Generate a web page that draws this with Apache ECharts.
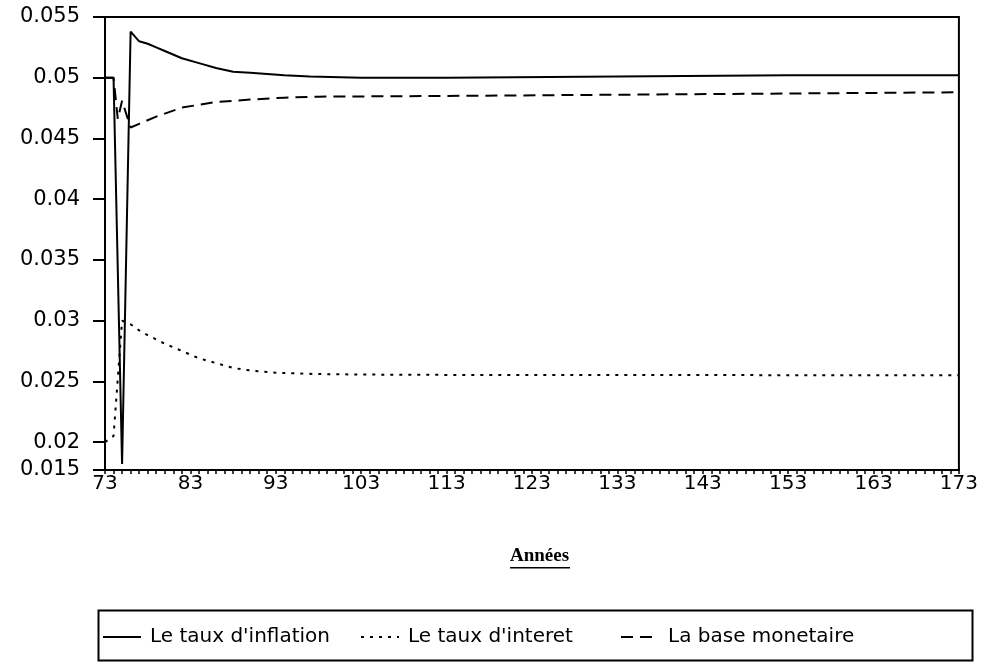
<!DOCTYPE html>
<html>
<head>
<meta charset="utf-8">
<script src="https://cdn.jsdelivr.net/npm/echarts@6/dist/echarts.min.js"></script>
<style>
  html, body { margin: 0; padding: 0; background: #fff; }
  #chart { width: 981px; height: 662px; }
</style>
</head>
<body>
<div id="chart"></div>
<script>
// Simulated paths (years 73 to 173)
const inflationYears = [73, 74, 75, 76, 77, 78, 79, 80, 82, 84, 86, 88, 90, 92, 94, 97, 103, 113, 133, 153, 173];
const inflationValues = [0.0500, 0.0500, 0.0182, 0.0538, 0.0530, 0.0528, 0.0525, 0.0522, 0.0516, 0.0512, 0.0508, 0.0505, 0.0504, 0.0503, 0.0502, 0.0501, 0.0500, 0.0500, 0.0501, 0.0502, 0.0502];

const interestYears = [73, 74, 75, 76, 77, 78, 80, 82, 84, 86, 88, 90, 93, 98, 103, 113, 173];
const interestValues = [0.0200, 0.0205, 0.0300, 0.0297, 0.0292, 0.0288, 0.0281, 0.0275, 0.0269, 0.0265, 0.0261, 0.0259, 0.0257, 0.0256, 0.02556, 0.02553, 0.0255];

const baseYears = [73, 74, 74.5, 75, 76, 77, 79, 82, 86, 90, 94, 98, 103, 113, 133, 153, 173];
const baseValues = [0.0500, 0.0500, 0.0466, 0.0481, 0.0459, 0.0462, 0.0468, 0.04754, 0.0480, 0.0482, 0.04836, 0.04844, 0.04846, 0.0485, 0.0486, 0.0487, 0.0488];

const seriesNames = ["Le taux d'inflation", "Le taux d'interet", "La base monetaire"];

// Axis ticks: years every 10 for labels, every year for small ticks
const xLabelYears = [73, 83, 93, 103, 113, 123, 133, 143, 153, 163, 173];
const xTickYears = [];
for (let y = 73; y <= 173; y++) xTickYears.push(y);

// Vertical scale: the bottom edge sits below 0.02 and carries the "0.015" caption
const yBottom = 0.0177;
const yTop = 0.055;
const yTickValues = [yBottom, 0.02, 0.025, 0.03, 0.035, 0.04, 0.045, 0.05, 0.055];
const yTickLabels = ['0.015', '0.02', '0.025', '0.03', '0.035', '0.04', '0.045', '0.05', '0.055'];

const pairs = (xs, ys) => xs.map((x, i) => [x, ys[i]]);

const FONT = 'DejaVu Sans';
const chart = echarts.init(document.getElementById('chart'), null, { renderer: 'canvas' });

const legendBase = {
  top: 627, orient: 'horizontal',
  itemWidth: 38, itemHeight: 14,
  padding: 0,
  itemStyle: { color: 'rgba(0,0,0,0)', borderWidth: 0 },
  textStyle: { color: '#000', fontFamily: FONT, fontSize: 20, padding: [0, 0, 0, 4] }
};

chart.setOption({
  animation: false,
  backgroundColor: '#ffffff',
  grid: {
    left: 105, right: 22, top: 17, bottom: 192,
    show: true, borderColor: '#000', borderWidth: 2, backgroundColor: 'transparent'
  },
  xAxis: {
    type: 'value', min: 73, max: 173,
    axisLine: { show: true, lineStyle: { color: '#000', width: 2 } },
    axisTick: { show: true, customValues: xTickYears, length: 4, inside: false, lineStyle: { color: '#000', width: 1.5 } },
    axisLabel: { customValues: xLabelYears, color: '#000', fontFamily: FONT, fontSize: 20, margin: 4 },
    splitLine: { show: false }
  },
  yAxis: {
    type: 'value', min: yBottom, max: yTop,
    axisLine: { show: true, lineStyle: { color: '#000', width: 2 } },
    axisTick: { show: true, customValues: yTickValues, length: 12, lineStyle: { color: '#000', width: 2 } },
    axisLabel: {
      customValues: yTickValues, color: '#000', fontFamily: FONT, fontSize: 21, margin: 25,
      formatter: (v) => yTickLabels[yTickValues.findIndex((t) => Math.abs(t - v) < 1e-9)]
    },
    splitLine: { show: false }
  },
  legend: [
    Object.assign({}, legendBase, { left: 102, data: [seriesNames[0]] }),
    Object.assign({}, legendBase, { left: 360, data: [seriesNames[1]] }),
    Object.assign({}, legendBase, { left: 620, data: [seriesNames[2]] })
  ],
  graphic: [
    {
      type: 'rect', left: 96, top: 608,
      shape: { width: 874, height: 50 },
      style: { fill: 'none', stroke: '#000', lineWidth: 2 }
    },
    {
      type: 'group', left: 510, top: 547,
      children: [
        { type: 'text', style: { text: 'Années', fill: '#000', font: 'bold 19px "Liberation Serif"' } },
        { type: 'rect', shape: { x: 0, y: 20, width: 60, height: 1.5 }, style: { fill: '#000' } }
      ]
    }
  ],
  series: [
    {
      name: seriesNames[0], type: 'line', showSymbol: false, symbol: 'none',
      data: pairs(inflationYears, inflationValues),
      lineStyle: { color: '#000', width: 2, type: 'solid' },
      itemStyle: { color: '#000' }
    },
    {
      name: seriesNames[1], type: 'line', showSymbol: false, symbol: 'none',
      data: pairs(interestYears, interestValues),
      lineStyle: { color: '#000', width: 2, type: [3, 6] },
      itemStyle: { color: '#000' }
    },
    {
      name: seriesNames[2], type: 'line', showSymbol: false, symbol: 'none',
      data: pairs(baseYears, baseValues),
      lineStyle: { color: '#000', width: 2, type: [12, 7] },
      itemStyle: { color: '#000' }
    }
  ]
});
</script>
</body>
</html>
